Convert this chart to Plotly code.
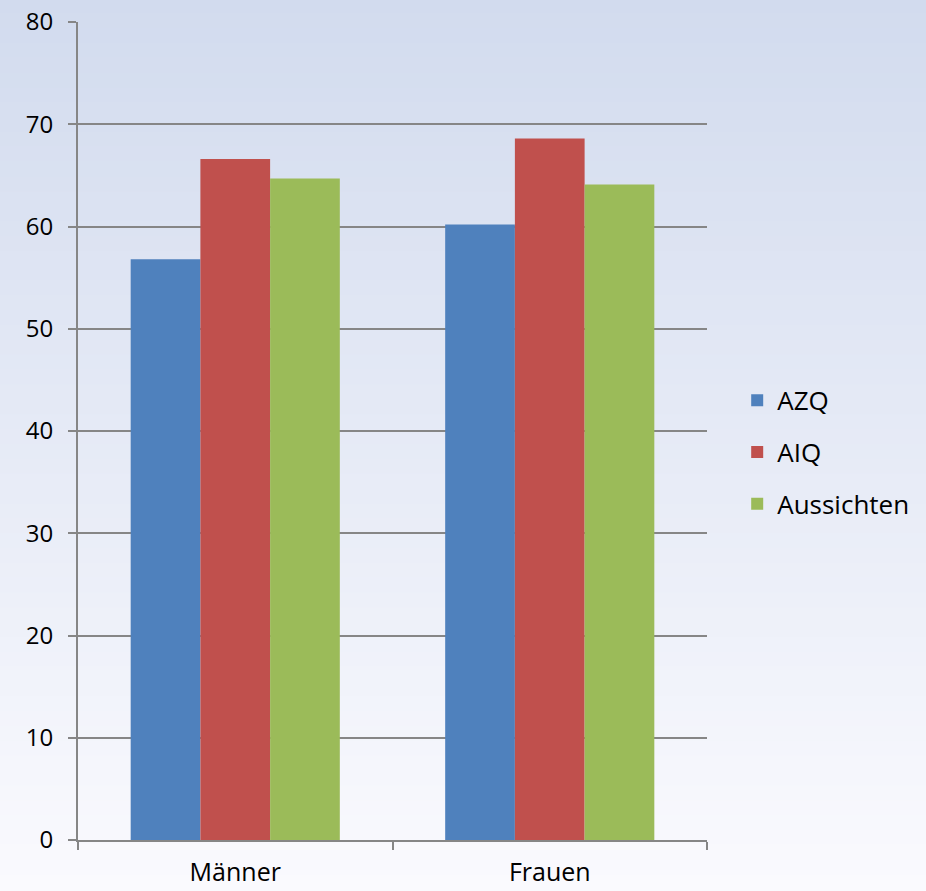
import plotly.graph_objects as go

# Data
categories = ["Männer", "Frauen"]
series_names = ["AZQ", "AIQ", "Aussichten"]
azq = [56.8, 60.2]
aiq = [66.6, 68.6]
aussichten = [64.7, 64.1]
y_ticks = [0, 10, 20, 30, 40, 50, 60, 70, 80]

colors = ["#4F81BD", "#C0504D", "#9BBB59"]
values = [azq, aiq, aussichten]

W, H = 926, 891
M = dict(l=78, r=219, t=22, b=51, pad=0, autoexpand=False)

fig = go.Figure()
for i, (name, vals) in enumerate(zip(series_names, values)):
    fig.add_trace(go.Bar(
        x=categories, y=vals, name=name, legendgroup=name,
        marker=dict(color=colors[i], line=dict(width=0)),
    ))

# Soft vertical gradient behind the whole figure (paper coordinates)
pw = W - M["l"] - M["r"]
ph = H - M["t"] - M["b"]
x0, x1 = -M["l"] / pw, 1 + M["r"] / pw
ybot, ytop = -M["b"] / ph, 1 + M["t"] / ph
top_rgb = (210, 219, 238)
bot_rgb = (250, 250, 254)
n = 60
shapes = []
for k in range(n):
    t = k / (n - 1)
    c = tuple(round(top_rgb[j] + (bot_rgb[j] - top_rgb[j]) * t) for j in range(3))
    ya = ytop - (ytop - ybot) * k / n
    yb = ytop - (ytop - ybot) * (k + 1) / n
    shapes.append(dict(
        type="rect", xref="paper", yref="paper", x0=x0, x1=x1, y0=yb, y1=ya + 0.002,
        fillcolor="rgb(%d,%d,%d)" % c, line=dict(width=0), layer="below",
    ))

family = "Open Sans, Liberation Sans, sans-serif"
font = dict(family=family, size=24, color="#000000")

fig.update_layout(
    width=W, height=H, margin=M,
    paper_bgcolor="rgba(0,0,0,0)", plot_bgcolor="rgba(0,0,0,0)",
    font=font, shapes=shapes,
    barmode="group", bargap=0.335, bargroupgap=0,
    legend=dict(
        x=1.048, xanchor="left", y=0.474, yanchor="middle",
        font=dict(family=family, size=26, color="#000000"),
        traceorder="grouped", tracegroupgap=15,
        bgcolor="rgba(0,0,0,0)",
    ),
    xaxis=dict(
        showline=True, linecolor="#868686", linewidth=2,
        ticks="outside", tickson="boundaries", ticklen=8, tickwidth=2, tickcolor="#868686",
        showgrid=False, ticklabelstandoff=9, automargin=False,
        tickfont=dict(family=family, size=25, color="#000000"),
    ),
    yaxis=dict(
        range=[0, 80], tickvals=y_ticks, showline=True, linecolor="#868686", linewidth=2,
        ticks="outside", ticklen=8, tickwidth=2, tickcolor="#868686",
        showgrid=True, gridcolor="#868686", gridwidth=2, zeroline=False,
        ticklabelstandoff=10, automargin=False,
        tickfont=dict(family=family, size=24, color="#000000"),
    ),
)

# Page without the default body margin so the figure fills the window
fig.write_html("out.html", post_script="document.body.style.margin='0';")
